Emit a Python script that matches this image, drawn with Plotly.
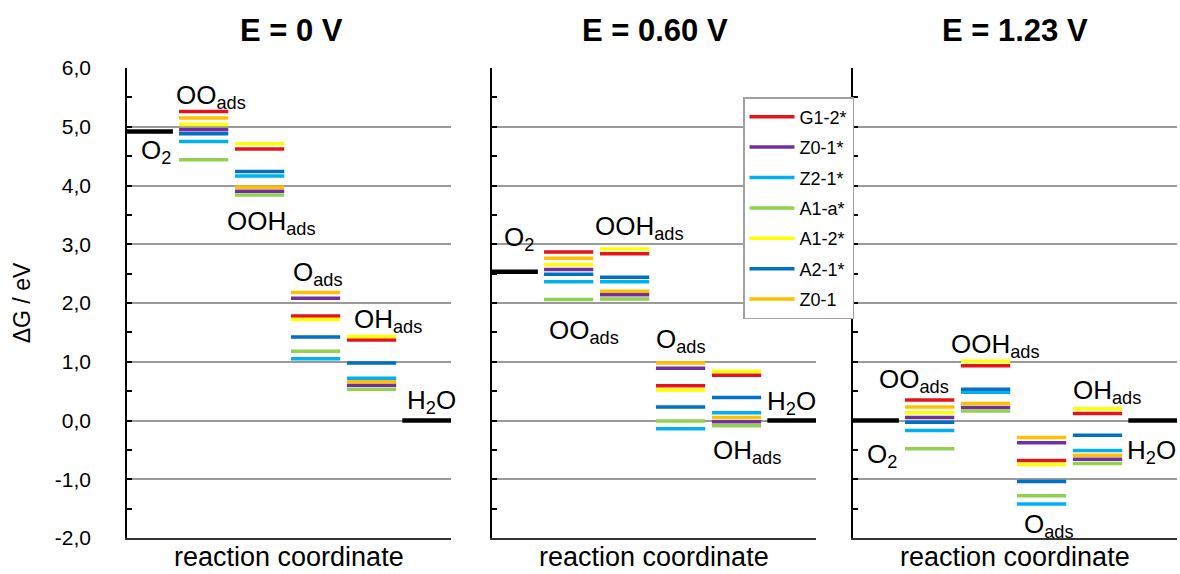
import plotly.graph_objects as go

# ---------------- data ----------------
series = ["G1-2*", "Z0-1*", "Z2-1*", "A1-a*", "A1-2*", "A2-1*", "Z0-1"]
colors = ["#E3141B", "#7030A0", "#00B0F0", "#92D050", "#FFFF00", "#0070C0", "#FFC000"]

steps = ["O2", "OO_ads", "OOH_ads", "O_ads", "OH_ads", "H2O"]
potentials = ["E = 0 V", "E = 0.60 V", "E = 1.23 V"]
x_title = "reaction coordinate"

# free energies (eV) of OO_ads, OOH_ads, O_ads, OH_ads for each catalyst
levels_0V = {
    "G1-2*": [5.26, 4.62, 1.78, 1.37],
    "Z0-1*": [4.95, 3.90, 2.08, 0.60],
    "Z2-1*": [4.75, 4.16, 1.05, 0.72],
    "A1-a*": [4.44, 3.84, 1.18, 0.53],
    "A1-2*": [5.04, 4.71, 1.72, 1.43],
    "A2-1*": [4.88, 4.24, 1.42, 0.98],
    "Z0-1":  [5.15, 3.97, 2.18, 0.66],
}
levels_060V = {
    "G1-2*": [2.87, 2.84, 0.59, 0.77],
    "Z0-1*": [2.57, 2.14, 0.89, -0.02],
    "Z2-1*": [2.36, 2.36, -0.14, 0.13],
    "A1-a*": [2.06, 2.07, -0.01, -0.09],
    "A1-2*": [2.65, 2.92, 0.52, 0.84],
    "A2-1*": [2.49, 2.44, 0.23, 0.39],
    "Z0-1":  [2.76, 2.20, 0.98, 0.05],
}
levels_123V = {
    "G1-2*": [0.35, 0.93, -0.68, 0.12],
    "Z0-1*": [0.05, 0.22, -0.38, -0.66],
    "Z2-1*": [-0.17, 0.48, -1.42, -0.51],
    "A1-a*": [-0.48, 0.16, -1.28, -0.73],
    "A1-2*": [0.13, 1.01, -0.75, 0.20],
    "A2-1*": [-0.03, 0.53, -1.04, -0.25],
    "Z0-1":  [0.23, 0.29, -0.29, -0.59],
}
panels = [levels_0V, levels_060V, levels_123V]

ref_O2 = [4.92, 2.53, 0.00]
ref_H2O = [0.00, 0.00, 0.00]

y_tick_vals = [-2, -1, 0, 1, 2, 3, 4, 5, 6]
y_tick_text = ["-2,0", "-1,0", "0,0", "1,0", "2,0", "3,0", "4,0", "5,0", "6,0"]

# species labels: (panel, text, x in step units, y in eV)
labels = [
    (0, "OO<sub>ads</sub>", 1.50, 5.52),
    (0, "O<sub>2</sub>", 0.52, 4.58),
    (0, "OOH<sub>ads</sub>", 2.59, 3.37),
    (0, "O<sub>ads</sub>", 3.41, 2.50),
    (0, "OH<sub>ads</sub>", 4.66, 1.71),
    (0, "H<sub>2</sub>O", 5.45, 0.32),
    (1, "O<sub>2</sub>", 0.48, 3.10),
    (1, "OOH<sub>ads</sub>", 2.63, 3.28),
    (1, "OO<sub>ads</sub>", 1.64, 1.51),
    (1, "O<sub>ads</sub>", 3.38, 1.37),
    (1, "H<sub>2</sub>O", 5.36, 0.30),
    (1, "OH<sub>ads</sub>", 4.55, -0.53),
    (2, "OO<sub>ads</sub>", 1.09, 0.68),
    (2, "OOH<sub>ads</sub>", 2.55, 1.27),
    (2, "OH<sub>ads</sub>", 4.54, 0.49),
    (2, "O<sub>2</sub>", 0.52, -0.59),
    (2, "H<sub>2</sub>O", 5.34, -0.53),
    (2, "O<sub>ads</sub>", 3.50, -1.79),
]

# ---------------- layout constants ----------------
W, H = 1180, 574
FONT = "Liberation Sans, Arial, sans-serif"
x_domains_px = [(127, 451), (492, 816), (853, 1177)]
y_top_px, y_bot_px = 68, 538
y_domain = [1 - y_bot_px / H, 1 - y_top_px / H]
x_range = [0, 5.79]
bar_starts = [0.93, 1.93, 2.93, 3.93]
bar_w = 0.88
o2_span = [0.0, 0.82]
h2o_span = [4.92, 5.79]
title_x_px = [291, 655, 1015]

fig = go.Figure()

for p, lev in enumerate(panels):
    xa = "x" if p == 0 else f"x{p+1}"
    ya = "y" if p == 0 else f"y{p+1}"
    # reference (black) levels
    fig.add_trace(go.Scatter(
        x=[o2_span[0], o2_span[1], None, h2o_span[0], h2o_span[1]],
        y=[ref_O2[p], ref_O2[p], None, ref_H2O[p], ref_H2O[p]],
        mode="lines", line=dict(color="black", width=4.5),
        xaxis=xa, yaxis=ya, showlegend=False, hoverinfo="skip"))
    for i, (name, col) in enumerate(zip(series, colors)):
        xs, ys = [], []
        for k, v in enumerate(lev[name]):
            xs += [bar_starts[k], bar_starts[k] + bar_w, None]
            ys += [v, v, None]
        fig.add_trace(go.Scatter(
            x=xs, y=ys, mode="lines", name=name,
            line=dict(color=col, width=3.5),
            xaxis=xa, yaxis=ya, legendgroup=name, legendrank=i + 1,
            showlegend=(p == 0)))

layout = dict(
    width=W, height=H, margin=dict(l=0, r=0, t=0, b=0),
    plot_bgcolor="white", paper_bgcolor="white",
    font=dict(family=FONT, color="black"),
    legend=dict(x=743 / W, y=1 - 97 / H, xanchor="left", yanchor="top",
                bgcolor="white", bordercolor="#A0A0A0", borderwidth=1.5,
                font=dict(size=18, family=FONT), tracegroupgap=4,
                itemwidth=45),
)

for p in range(3):
    suf = "" if p == 0 else str(p + 1)
    d0, d1 = x_domains_px[p]
    layout["xaxis" + suf] = dict(
        domain=[d0 / W, d1 / W], range=x_range, anchor="y" + suf,
        showline=True, linecolor="#333333", linewidth=2,
        showgrid=False, zeroline=False, showticklabels=False, ticks="",
        fixedrange=True, automargin=False)
    ya = dict(
        domain=y_domain, range=[-2, 6], anchor="x" + suf,
        tickmode="array", tickvals=y_tick_vals, ticktext=y_tick_text,
        ticks="inside", ticklen=5, tickwidth=1.5, tickcolor="black",
        showline=True, linecolor="black", linewidth=1.5,
        showgrid=True, gridcolor="#9A9A9A", gridwidth=2, zeroline=False,
        minor=dict(tickmode="linear", tick0=-2, dtick=0.5, ticks="inside",
                   ticklen=5, tickwidth=1.5, tickcolor="black", showgrid=False),
        fixedrange=True, automargin=False,
        showticklabels=(p == 0))
    if p == 0:
        ya.update(tickfont=dict(size=21, family=FONT), ticklabelstandoff=30,
                  title=dict(text="ΔG / eV", font=dict(size=23, family=FONT), standoff=18))
    layout["yaxis" + suf] = ya

annotations = []
for p, txt in enumerate(potentials):
    annotations.append(dict(
        text=f"<b>{txt}</b>", x=title_x_px[p] / W, y=1 - 30 / H,
        xref="paper", yref="paper", showarrow=False,
        xanchor="center", yanchor="middle",
        font=dict(size=31, family=FONT, color="black")))
    # x-axis title under each panel
    suf = "" if p == 0 else str(p + 1)
    annotations.append(dict(
        text=x_title, x=0.5, y=0, xref=f"x{suf} domain", yref="paper",
        showarrow=False, xanchor="center", yanchor="bottom",
        font=dict(size=27, family=FONT, color="black")))
for p, txt, x, y in labels:
    suf = "" if p == 0 else str(p + 1)
    annotations.append(dict(
        text=txt, x=x, y=y, xref="x" + suf, yref="y" + suf, showarrow=False,
        xanchor="center", yanchor="middle",
        font=dict(size=26, family=FONT, color="black")))
layout["annotations"] = annotations

fig.update_layout(**layout)
fig.write_html("out.html")
